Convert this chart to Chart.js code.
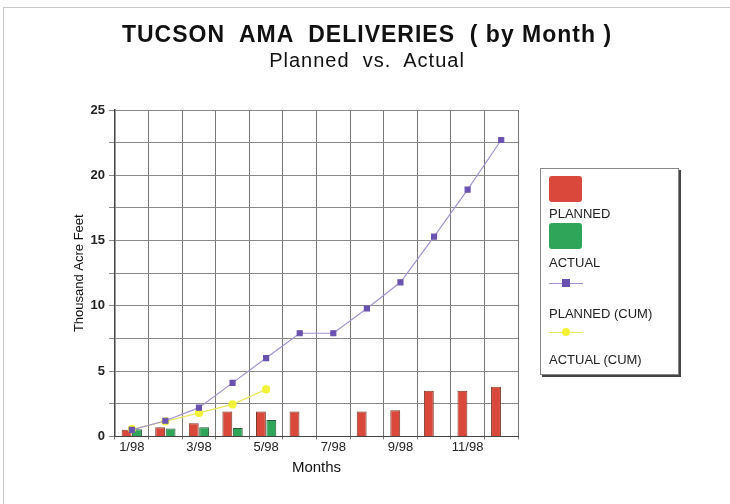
<!DOCTYPE html>
<html>
<head>
<meta charset="utf-8">
<script src="https://cdn.jsdelivr.net/npm/chart.js@4/dist/chart.umd.min.js"></script>
<style>
  html, body { margin: 0; padding: 0; background: #fff; }
  #wrap { position: relative; width: 730px; height: 504px; overflow: hidden; background: #fff; }
  #frame { position: absolute; left: 3px; top: 7px; width: 740px; height: 520px; border-top: 1px solid #c8c8c8; border-left: 1px solid #c8c8c8; pointer-events: none; }
  #c { position: absolute; left: 0; top: 0; }
  .ttl { position: absolute; left: 0; width: 734px; text-align: center; white-space: pre; color: #111;
    font-family: "Liberation Sans", Arial, sans-serif; line-height: 1; }
  #t1 { top: 23px; font-size: 23px; font-weight: bold; letter-spacing: 1px; }
  #t2 { top: 50px; font-size: 20px; letter-spacing: 1px; }
  #legend { position: absolute; left: 540px; top: 168px; width: 137px; height: 205px;
    border: 1px solid #888; box-shadow: 2px 2px 0 #444; background: #fff;
    font-family: "Liberation Sans", Arial, sans-serif; font-size: 13px; color: #222; }
  .lg-sw { position: absolute; }
  .lg-tx { position: absolute; white-space: nowrap; }
</style>
</head>
<body>
<div id="wrap">
  <canvas id="c" width="730" height="504"></canvas>
  <div id="frame"></div>
  <div class="ttl" id="t1"></div>
  <div class="ttl" id="t2"></div>
  <div id="legend"></div>
</div>
<script>
// ---- data ----
const titleText = 'TUCSON  AMA  DELIVERIES  ( by Month )';
const subtitleText = 'Planned  vs.  Actual';
const months = ['1/98','2/98','3/98','4/98','5/98','6/98','7/98','8/98','9/98','10/98','11/98','12/98'];
const planned = [0.5, 0.7, 1.0, 1.9, 1.9, 1.9, 0, 1.9, 2.0, 3.5, 3.5, 3.8];
const actual = [0.55, 0.6, 0.7, 0.65, 1.25, null, null, null, null, null, null, null];
const plannedCum = [0.5, 1.2, 2.2, 4.1, 6.0, 7.9, 7.9, 9.8, 11.8, 15.3, 18.9, 22.7];
const actualCum = [0.55, 1.15, 1.8, 2.45, 3.6, null, null, null, null, null, null, null];
const yTicks = [0, 5, 10, 15, 20, 25];

document.getElementById('t1').textContent = titleText;
document.getElementById('t2').textContent = subtitleText;

const FONT = '"Liberation Sans", Arial, Helvetica, sans-serif';
const RED = '#d9483a', GREEN = '#2fa55a', PURPLE = '#6a52b0', PURPLE_LINE = '#a493cf', YELLOW = '#f2f238';

const chart = new Chart(document.getElementById('c'), {
  type: 'bar',
  data: {
    labels: months,
    datasets: [
      { type: 'line', label: 'PLANNED (CUM)', data: plannedCum, borderColor: PURPLE_LINE, borderWidth: 1.2,
        pointStyle: 'rect', pointRadius: 3.5, pointBackgroundColor: PURPLE, pointBorderColor: PURPLE,
        tension: 0, order: 0, legendColor: PURPLE },
      { type: 'line', label: 'ACTUAL (CUM)', data: actualCum, borderColor: '#e8e860', borderWidth: 1.2,
        pointStyle: 'circle', pointRadius: 3.5, pointBackgroundColor: YELLOW, pointBorderColor: YELLOW,
        tension: 0, order: 0, legendColor: YELLOW },
      { label: 'PLANNED', data: planned, backgroundColor: RED, borderColor: '#7a3a2a', borderWidth: 1,
        categoryPercentage: 0.62, barPercentage: 0.95, order: 1 },
      { label: 'ACTUAL', data: actual, backgroundColor: GREEN, borderColor: '#2a5a3a', borderWidth: 1,
        categoryPercentage: 0.62, barPercentage: 0.95, order: 1 }
    ]
  },
  options: {
    responsive: false,
    animation: false,
    devicePixelRatio: 1,
    layout: { padding: { left: 72, right: 212, top: 110, bottom: 27 } },
    plugins: {
      legend: { display: false },
      tooltip: { enabled: false },
      title: { display: false },
      subtitle: { display: false }
    },
    scales: {
      x: {
        grid: { color: '#777', lineWidth: 1, offset: true, drawTicks: true, tickLength: 3 },
        border: { color: '#444', width: 1 },
        ticks: { color: '#222', font: { family: FONT, size: 13 }, padding: 0, maxRotation: 0, autoSkip: false,
          callback: function(v, i) { return i % 2 === 0 ? months[i] : ''; } },
        title: { display: true, text: 'Months', color: '#111', font: { family: FONT, size: 15 }, padding: { top: 4, bottom: 0 } }
      },
      y: {
        min: 0, max: 25,
        afterFit: function(s) { s.width = 43; },
        grid: { color: '#8a8a8a', lineWidth: 1, tickLength: 6 },
        border: { color: '#444', width: 1.5 },
        ticks: { stepSize: 2.5, color: '#222', padding: 4, font: { family: FONT, size: 13, weight: 'bold' },
          callback: function(v) { return yTicks.includes(v) ? String(v) : ''; } },
        title: { display: true, text: 'Thousand Acre Feet', color: '#111', font: { family: FONT, size: 13 }, padding: { top: 0, bottom: 2 } }
      }
    }
  }
});

// ---- HTML legend built from the chart's datasets ----
(function buildLegend() {
  const lg = document.getElementById('legend');
  const byLabel = {};
  chart.data.datasets.forEach(d => byLabel[d.label] = d);
  const order = ['PLANNED', 'ACTUAL', 'PLANNED (CUM)', 'ACTUAL (CUM)'];
  const swatchTop = [7, 54, 108, 157];
  const textTop = [37, 86, 137, 183];
  order.forEach((name, i) => {
    const d = byLabel[name];
    const sw = document.createElement('div');
    sw.className = 'lg-sw';
    if (d.type === 'line') {
      sw.style.left = '8px'; sw.style.top = swatchTop[i] + 'px';
      sw.style.width = '34px'; sw.style.height = '12px';
      const ln = document.createElement('div');
      ln.style.cssText = 'position:absolute;left:0;top:6px;width:34px;height:1px;background:' + d.borderColor;
      const mk = document.createElement('div');
      const r = d.pointStyle === 'circle' ? '50%' : '0';
      mk.style.cssText = 'position:absolute;left:13px;top:2px;width:8px;height:8px;border-radius:' + r + ';background:' + d.legendColor;
      sw.appendChild(ln); sw.appendChild(mk);
    } else {
      sw.style.left = '8px'; sw.style.top = swatchTop[i] + 'px';
      sw.style.width = '33px'; sw.style.height = '26px';
      sw.style.borderRadius = '3px';
      sw.style.background = d.backgroundColor;
    }
    lg.appendChild(sw);
    const tx = document.createElement('div');
    tx.className = 'lg-tx';
    tx.style.left = '8px'; tx.style.top = textTop[i] + 'px';
    tx.textContent = name;
    lg.appendChild(tx);
  });
})();
</script>
</body>
</html>
